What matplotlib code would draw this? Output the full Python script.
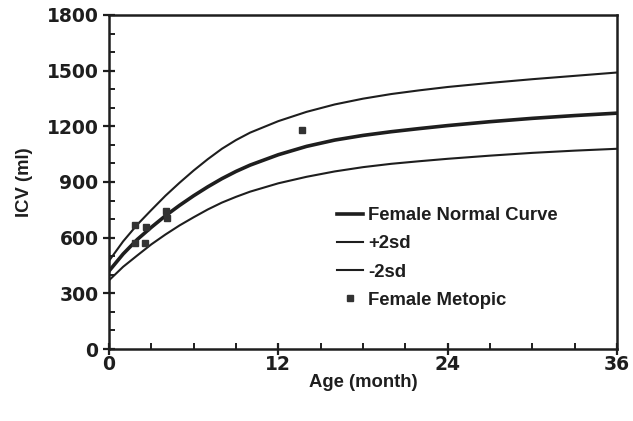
import matplotlib
matplotlib.use("Agg")
import matplotlib.pyplot as plt
from matplotlib.ticker import MultipleLocator

# ---- data ----
months = [0, 1, 2, 3, 4, 5, 6, 7, 8, 9, 10, 12, 14, 16, 18, 20, 22, 24, 27, 30, 33, 36]
normal = [420, 512, 590, 656, 718, 774, 826, 874, 918, 957, 991, 1047, 1092, 1126, 1151,
          1171, 1188, 1204, 1225, 1243, 1258, 1271]
plus2sd = [475, 580, 670, 749, 826, 896, 962, 1023, 1079, 1126, 1166, 1228, 1278, 1318, 1349,
           1374, 1394, 1412, 1434, 1454, 1472, 1490]
minus2sd = [370, 443, 504, 564, 617, 666, 710, 752, 789, 820, 848, 893, 928, 957, 980,
            998, 1012, 1025, 1042, 1057, 1069, 1079]

metopic_age = [1.84, 2.6, 4.05, 4.1, 1.84, 2.55, 13.67]
metopic_icv = [668, 656, 745, 706, 570, 573, 1180]

x_ticks = [0, 12, 24, 36]
y_ticks = [0, 300, 600, 900, 1200, 1500, 1800]

FONT = "Liberation Sans"
TICKFONT = "DejaVu Sans"
FS = 13.3
TFS = 13.5
INK = "#1e1e1e"

fig = plt.figure(figsize=(6.33, 4.21), dpi=100)
ax = fig.add_axes([0.1722, 0.171, 0.8025, 0.7934])

ax.plot(months, plus2sd, color=INK, lw=1.5, label="+2sd", zorder=3)
ax.plot(months, normal, color=INK, lw=2.6, label="Female Normal Curve", zorder=3)
ax.plot(months, minus2sd, color=INK, lw=1.5, label="-2sd", zorder=3)
ax.plot(metopic_age, metopic_icv, linestyle="none", marker="s", markersize=5,
        color="#333333", label="Female Metopic", zorder=4)

ax.set_xlim(0, 36)
ax.set_ylim(0, 1800)
ax.set_xticks(x_ticks)
ax.set_yticks(y_ticks)
ax.xaxis.set_minor_locator(MultipleLocator(3))
ax.yaxis.set_minor_locator(MultipleLocator(100))

ax.tick_params(axis="both", which="major", direction="inout", length=9, width=1.6,
               colors=INK, labelsize=TFS)
ax.tick_params(axis="x", which="major", pad=0)
ax.tick_params(axis="y", which="major", pad=3)
ax.tick_params(axis="both", which="minor", direction="in", length=4, width=1.4, colors=INK)
ax.tick_params(top=False, right=False, which="both")

for lab in ax.get_xticklabels() + ax.get_yticklabels():
    lab.set_fontfamily(TICKFONT)
    lab.set_fontweight("bold")
    lab.set_color(INK)

for s in ax.spines.values():
    s.set_linewidth(1.8)
    s.set_color(INK)

ax.set_xlabel("Age (month)", fontsize=FS, fontweight="bold", family=FONT, color=INK, labelpad=0)
ax.set_ylabel("ICV (ml)", fontsize=FS, fontweight="bold", family=FONT, color=INK, labelpad=10)

handles, labels = ax.get_legend_handles_labels()
order = [1, 0, 2, 3]
leg = ax.legend([handles[i] for i in order], [labels[i] for i in order],
                loc="upper left", bbox_to_anchor=(0.449, 0.425), frameon=False,
                borderpad=0, borderaxespad=0, handlelength=1.4, handletextpad=0.27,
                labelspacing=0.61, prop={"family": FONT, "weight": "bold", "size": FS})
for t in leg.get_texts():
    t.set_color(INK)

fig.savefig("out.png", dpi=100, facecolor="white")
